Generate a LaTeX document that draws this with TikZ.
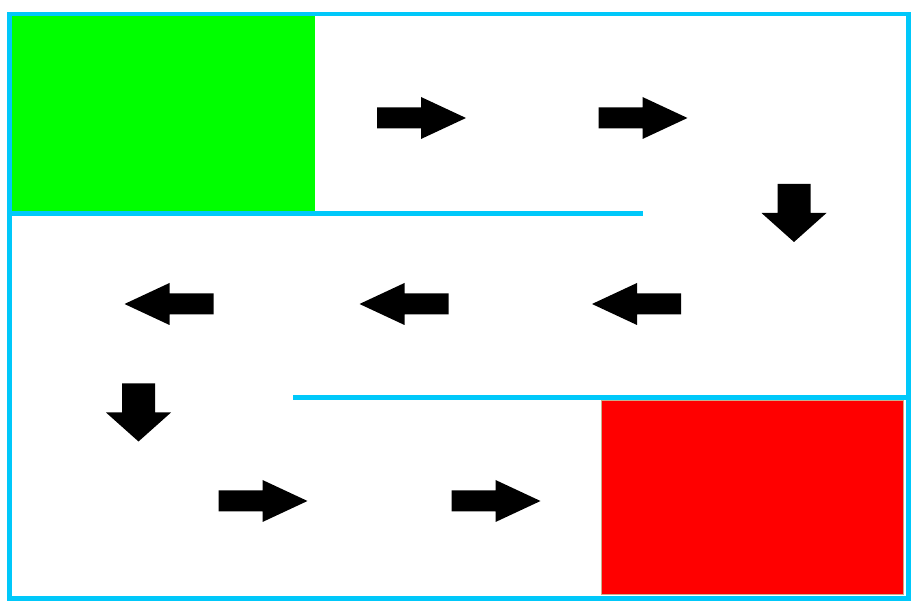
\documentclass[tikz,border=0pt]{standalone}
\usetikzlibrary{positioning}
\definecolor{wallblue}{RGB}{0,200,250}
\definecolor{startgreen}{RGB}{0,255,0}
\definecolor{goalred}{RGB}{255,0,0}
\definecolor{goaledge}{RGB}{200,175,140}

\begin{document}
\begin{tikzpicture}[x=1pt,y=-1pt,
  wall/.style={draw=wallblue,line width=5pt},
  startbox/.style={fill=startgreen},
  goalbox/.style={fill=goalred,draw=goaledge,line width=0.8pt},
  goright/.pic={\fill[black] (-44.5,-10.5) -- (-0.5,-10.5) -- (-0.5,-21) -- (44.5,0)
     -- (-0.5,21) -- (-0.5,10.5) -- (-44.5,10.5) -- cycle;},
  godown/.pic={\fill[black] (-16.5,-29) -- (16.5,-29) -- (16.5,0) -- (32.5,0)
     -- (0,29) -- (-32.5,0) -- (-16.5,0) -- cycle;}]
  \useasboundingbox (0,0) rectangle (914,601);
  % start and goal
  \fill[startbox] (12,16) rectangle (315,212);
  \filldraw[goalbox] (601,400) rectangle (903.5,594.5);
  % walls
  \draw[wall,line width=4.5pt] (9.5,14) rectangle (908.5,598.5);
  \draw[wall] (12,214) -- (643,214);
  \draw[wall] (293,397.5) -- (906,397.5);
  % path
  \foreach \x in {421.5,643} \pic at (\x,118) {goright};
  \pic at (794,213) {godown};
  \foreach \x in {169,404,636.5} \pic[rotate=180] at (\x,304) {goright};
  \pic at (138.5,412.5) {godown};
  \foreach \x in {263,496} \pic at (\x,501) {goright};
\end{tikzpicture}
\end{document}
